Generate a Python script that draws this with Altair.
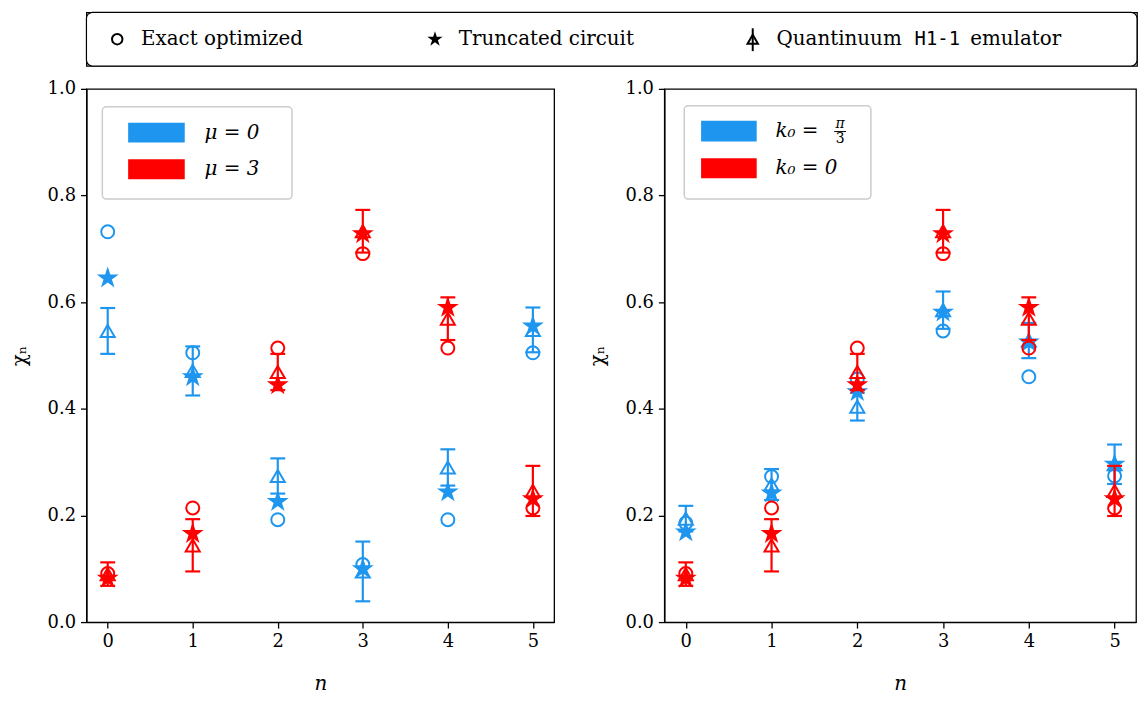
import altair as alt
import pandas as pd

FONT = "DejaVu Serif"
MONO = "DejaVu Sans Mono"
BLUE = "#1e96f0"
RED = "#ff0000"
STAR = ("M0,-1L0.2245,-0.309L0.9511,-0.309L0.3633,0.118L0.5878,0.809L0,0.382"
        "L-0.5878,0.809L-0.3633,0.118L-0.9511,-0.309L-0.2245,-0.309Z")

ns = [0, 1, 2, 3, 4, 5]

# left panel, mu = 0 (blue)
exact_mu0 = [0.732, 0.505, 0.192, 0.108, 0.192, 0.505]
trunc_mu0 = [0.645, 0.460, 0.226, 0.100, 0.244, 0.555]
emu_mu0 = [0.546, 0.471, 0.274, 0.095, 0.290, 0.548]
emu_err_mu0 = [0.043, 0.046, 0.033, 0.056, 0.034, 0.042]

# mu = 3 (left, red) == k0 = 0 (right, red)
exact_mu3 = [0.091, 0.214, 0.514, 0.691, 0.514, 0.214]
trunc_mu3 = [0.082, 0.166, 0.445, 0.728, 0.590, 0.231]
emu_mu3 = [0.090, 0.144, 0.469, 0.733, 0.569, 0.246]
emu_err_mu3 = [0.022, 0.049, 0.034, 0.040, 0.040, 0.047]

# right panel, k0 = pi/3 (blue)
exact_kpi3 = [0.186, 0.273, 0.456, 0.546, 0.460, 0.274]
trunc_kpi3 = [0.169, 0.242, 0.432, 0.581, 0.525, 0.296]
emu_kpi3 = [0.194, 0.258, 0.404, 0.585, 0.528, 0.296]
emu_err_kpi3 = [0.024, 0.029, 0.026, 0.035, 0.033, 0.037]

y_ticks = [0.0, 0.2, 0.4, 0.6, 0.8, 1.0]

PH = 537


def build_df(groups):
    rows = []
    for g, (ex, tr, em, er) in groups.items():
        for i, n in enumerate(ns):
            rows.append({"n": n, "grp": g, "kind": "exact", "value": ex[i], "err": 0.0})
            rows.append({"n": n, "grp": g, "kind": "trunc", "value": tr[i], "err": 0.0})
            rows.append({"n": n, "grp": g, "kind": "emu", "value": em[i], "err": er[i]})
    return pd.DataFrame(rows)


def xenc():
    return alt.X("n:Q", scale=alt.Scale(domain=[-0.25, 5.25], nice=False, zero=False),
                 axis=alt.Axis(values=ns, format="d", title="n", titleFontStyle="italic"))


def yenc(field):
    return alt.Y(field, scale=alt.Scale(domain=[0, 1], nice=False),
                 axis=alt.Axis(values=y_ticks, format=".1f", title="χₙ"))


one = pd.DataFrame({"k": [0]})


def panel(df, legend, width):
    layers = []
    for g, color in [("blue", BLUE), ("red", RED)]:
        base = alt.Chart(df).transform_filter(alt.datum.grp == g)
        layers.append(base.transform_filter(alt.datum.kind == "exact").mark_point(
            shape="circle", filled=False, size=170, strokeWidth=2, color=color, opacity=1
        ).encode(x=xenc(), y=yenc("value:Q")))
        emu = base.transform_filter(alt.datum.kind == "emu").transform_calculate(
            lo="datum.value - datum.err", hi="datum.value + datum.err")
        layers.append(emu.mark_rule(color=color, strokeWidth=2.2).encode(
            x=xenc(), y=yenc("lo:Q"), y2="hi:Q"))
        layers.append(emu.mark_tick(color=color, orient="horizontal", size=15, thickness=2.2, opacity=1).encode(
            x=xenc(), y=yenc("lo:Q")))
        layers.append(emu.mark_tick(color=color, orient="horizontal", size=15, thickness=2.2, opacity=1).encode(
            x=xenc(), y=yenc("hi:Q")))
        layers.append(emu.mark_point(shape="triangle-up", filled=False, size=200, strokeWidth=2,
                                     color=color, opacity=1).encode(x=xenc(), y=yenc("value:Q")))
        layers.append(base.transform_filter(alt.datum.kind == "trunc").mark_point(
            shape=STAR, filled=True, size=540, color=color, opacity=1, strokeWidth=0
        ).encode(x=xenc(), y=yenc("value:Q")))

    # in-panel legend
    bx0, bx1, by0, by1, rx0, rx1, tx, rows, frac = legend
    lc = alt.Chart(one)
    layers.append(lc.mark_rect(fill="white", stroke="#cccccc", strokeWidth=1.5, cornerRadius=4).encode(
        x=alt.value(bx0), x2=alt.value(bx1), y=alt.value(by0), y2=alt.value(by1)))
    for (ya, yb, col, label) in rows:
        layers.append(lc.mark_rect(color=col).encode(
            x=alt.value(rx0), x2=alt.value(rx1), y=alt.value(ya), y2=alt.value(yb)))
        layers.append(lc.mark_text(text=label, font=FONT, fontSize=20, fontStyle="italic",
                                   align="left", baseline="middle", color="black").encode(
            x=alt.value(tx), y=alt.value((ya + yb) / 2)))
    if frac is not None:
        fx, fy = frac
        layers.append(lc.mark_text(text="π", font=FONT, fontSize=14, fontStyle="italic",
                                   align="center", baseline="bottom", color="black").encode(
            x=alt.value(fx), y=alt.value(fy - 1)))
        layers.append(lc.mark_rule(color="black", strokeWidth=1).encode(
            x=alt.value(fx - 6), x2=alt.value(fx + 6), y=alt.value(fy)))
        layers.append(lc.mark_text(text="3", font=FONT, fontSize=14,
                                   align="center", baseline="top", color="black").encode(
            x=alt.value(fx), y=alt.value(fy + 1)))
    return alt.layer(*layers).properties(width=width, height=PH)


df_left = build_df({"blue": (exact_mu0, trunc_mu0, emu_mu0, emu_err_mu0),
                    "red": (exact_mu3, trunc_mu3, emu_mu3, emu_err_mu3)})
df_right = build_df({"blue": (exact_kpi3, trunc_kpi3, emu_kpi3, emu_err_kpi3),
                     "red": (exact_mu3, trunc_mu3, emu_mu3, emu_err_mu3)})

left = panel(df_left, (16, 207, 18, 111, 42, 99, 119,
                       [(34, 54, BLUE, "μ = 0"), (71, 91, RED, "μ = 3")], None), 471)
right = panel(df_right, (20, 208, 17, 111, 37, 93, 112,
                         [(32, 53, BLUE, "k₀ = "), (70, 90, RED, "k₀ = 0")], (177, 43)), 475)

# top legend
LW, LH = 1058, 54
cy = 27
tl = alt.Chart(one)
top_layers = [
    tl.mark_rect(fill="white", stroke="black", strokeWidth=1.2, cornerRadius=6).encode(
        x=alt.value(0), x2=alt.value(LW), y=alt.value(0), y2=alt.value(LH)),
    tl.mark_point(shape="circle", filled=False, size=110, strokeWidth=2, color="black", opacity=1).encode(
        x=alt.value(31), y=alt.value(cy)),
    tl.mark_text(text="Exact optimized", font=FONT, fontSize=20, align="left", baseline="middle",
                 color="black").encode(x=alt.value(55), y=alt.value(cy)),
    tl.mark_point(shape=STAR, filled=True, size=260, color="black", opacity=1, strokeWidth=0).encode(
        x=alt.value(351), y=alt.value(cy)),
    tl.mark_text(text="Truncated circuit", font=FONT, fontSize=20, align="left", baseline="middle",
                 color="black").encode(x=alt.value(375), y=alt.value(cy)),
    tl.mark_rule(color="black", strokeWidth=2).encode(
        x=alt.value(671), y=alt.value(cy - 11), y2=alt.value(cy + 12)),
    tl.mark_point(shape="triangle-up", filled=False, size=110, strokeWidth=2, color="black", opacity=1).encode(
        x=alt.value(671), y=alt.value(cy)),
    tl.mark_text(text="Quantinuum", font=FONT, fontSize=20, align="left", baseline="middle",
                 color="black").encode(x=alt.value(695), y=alt.value(cy)),
    tl.mark_text(text="H1-1", font=MONO, fontSize=19, align="left", baseline="middle",
                 color="black").encode(x=alt.value(834), y=alt.value(cy)),
    tl.mark_text(text="emulator", font=FONT, fontSize=20, align="left", baseline="middle",
                 color="black").encode(x=alt.value(890), y=alt.value(cy)),
]
top = alt.layer(*top_layers).properties(width=LW, height=LH)

chart = alt.vconcat(
    top,
    alt.hconcat(left, right, spacing=111, bounds="flush"),
    spacing=23, bounds="flush"
).properties(
    padding={"left": 0, "top": 0, "right": 0, "bottom": 0},
).configure(
    font=FONT,
).configure_view(
    stroke="black", strokeWidth=1.3
).configure_axis(
    labelFont=FONT, labelFontSize=18, labelColor="black",
    titleFont=FONT, titleFontSize=20, titleColor="black", titleFontWeight="normal",
    domainColor="black", domainWidth=1.3, tickColor="black", tickWidth=1.3, tickSize=6,
    labelPadding=5, grid=False,
).configure_axisY(titlePadding=18).configure_axisX(titlePadding=23)

chart.save("out.html", embed_options={"renderer": "svg", "actions": False})
